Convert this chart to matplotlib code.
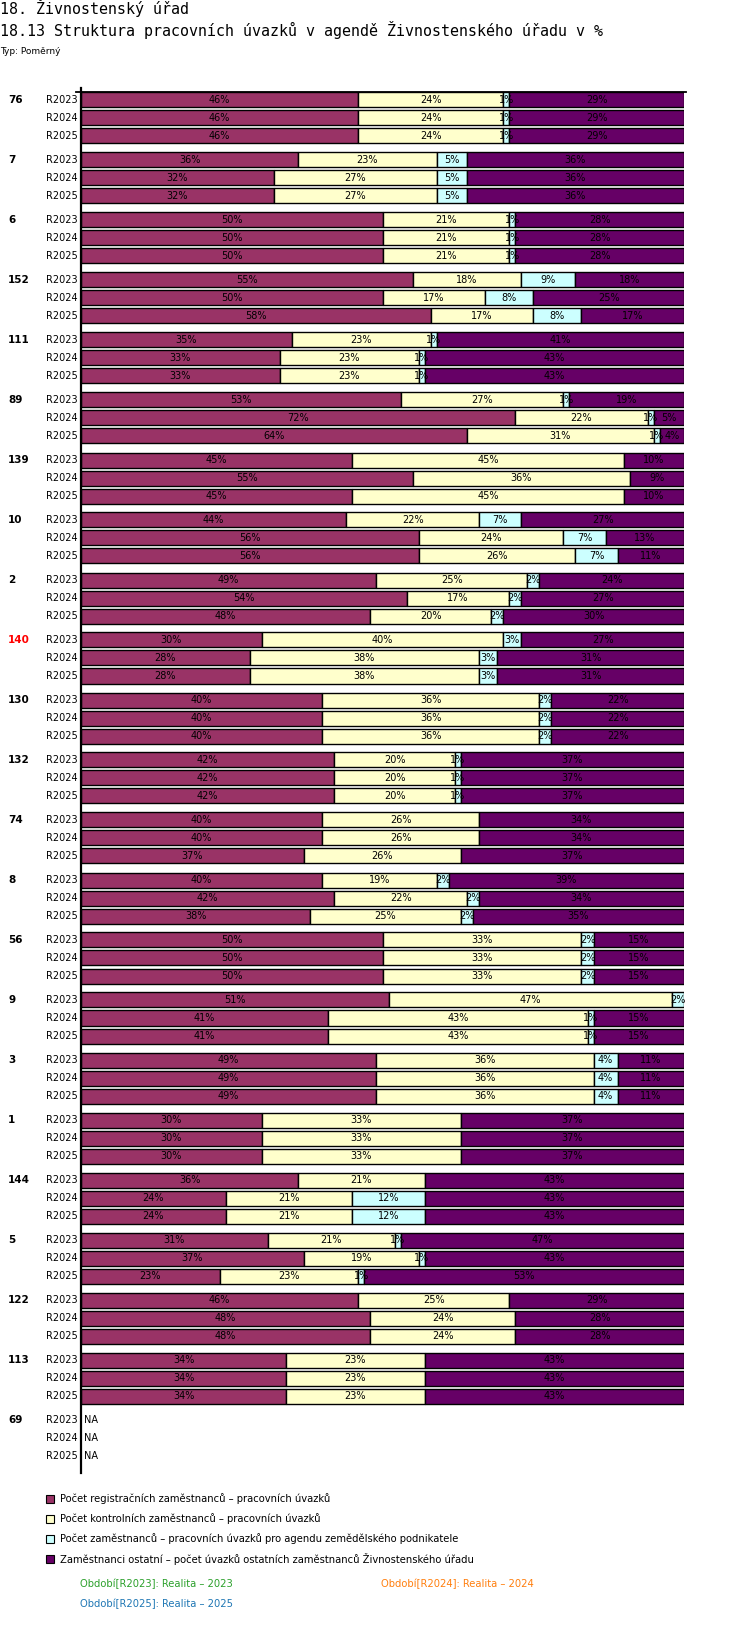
import matplotlib
matplotlib.use("Agg")
import matplotlib.pyplot as plt
from matplotlib.lines import Line2D
from matplotlib.patches import Rectangle

# skupiny (úřady) a období
groups = ["76", "7", "6", "152", "111", "89", "139", "10", "2", "140", "130", "132",
          "74", "8", "56", "9", "3", "1", "144", "5", "122", "113", "69"]
periods = ["R2023", "R2024", "R2025"]
highlight = "140"

# hodnoty v % (None = NA), pořadí období R2023, R2024, R2025
registracni = [[46, 46, 46], [36, 32, 32], [50, 50, 50], [55, 50, 58], [35, 33, 33],
               [53, 72, 64], [45, 55, 45], [44, 56, 56], [49, 54, 48], [30, 28, 28],
               [40, 40, 40], [42, 42, 42], [40, 40, 37], [40, 42, 38], [50, 50, 50],
               [51, 41, 41], [49, 49, 49], [30, 30, 30], [36, 24, 24], [31, 37, 23],
               [46, 48, 48], [34, 34, 34], [None, None, None]]
kontrolni = [[24, 24, 24], [23, 27, 27], [21, 21, 21], [18, 17, 17], [23, 23, 23],
             [27, 22, 31], [45, 36, 45], [22, 24, 26], [25, 17, 20], [40, 38, 38],
             [36, 36, 36], [20, 20, 20], [26, 26, 26], [19, 22, 25], [33, 33, 33],
             [47, 43, 43], [36, 36, 36], [33, 33, 33], [21, 21, 21], [21, 19, 23],
             [25, 24, 24], [23, 23, 23], [None, None, None]]
zemedelsky = [[1, 1, 1], [5, 5, 5], [1, 1, 1], [9, 8, 8], [1, 1, 1],
              [1, 1, 1], [0, 0, 0], [7, 7, 7], [2, 2, 2], [3, 3, 3],
              [2, 2, 2], [1, 1, 1], [0, 0, 0], [2, 2, 2], [2, 2, 2],
              [2, 1, 1], [4, 4, 4], [0, 0, 0], [0, 12, 12], [1, 1, 1],
              [0, 0, 0], [0, 0, 0], [None, None, None]]
ostatni = [[29, 29, 29], [36, 36, 36], [28, 28, 28], [18, 25, 17], [41, 43, 43],
           [19, 5, 4], [10, 9, 10], [27, 13, 11], [24, 27, 30], [27, 31, 31],
           [22, 22, 22], [37, 37, 37], [34, 34, 37], [39, 34, 35], [15, 15, 15],
           [0, 15, 15], [11, 11, 11], [37, 37, 37], [43, 43, 43], [47, 43, 53],
           [29, 28, 28], [43, 43, 43], [None, None, None]]

series = [registracni, kontrolni, zemedelsky, ostatni]
colors = ["#993366", "#FFFFCC", "#CCFFFF", "#660066"]
legend_labels = [
    "Počet registračních zaměstnanců – pracovních úvazků",
    "Počet kontrolních zaměstnanců – pracovních úvazků",
    "Počet zaměstnanců – pracovních úvazků pro agendu zemědělského podnikatele",
    "Zaměstnanci ostatní – počet úvazků ostatních zaměstnanců Živnostenského úřadu",
]
period_texts = ["Období[R2023]: Realita – 2023", "Období[R2024]: Realita – 2024",
                "Období[R2025]: Realita – 2025"]
period_colors = ["#2ca02c", "#ff7f0e", "#1f77b4"]

W, H = 750, 1642
fig = plt.figure(figsize=(W / 100, H / 100), dpi=100)

# rozložení v pixelech
ax_left, ax_right = 81, 684
ax_top, ax_bottom = 88, 1473
first_center = 100
row_h = 18
grp_h = 60
bar_h = 15

ax = fig.add_axes([ax_left / W, 1 - ax_bottom / H, (ax_right - ax_left) / W,
                   (ax_bottom - ax_top) / H])
ax.set_xlim(0, 100)
ax.set_ylim((ax_bottom - first_center) / row_h, (ax_top - first_center) / row_h)
for s in ["top", "right", "bottom"]:
    ax.spines[s].set_visible(False)
ax.spines["left"].set_linewidth(1.6)
ax.set_xticks([])
ax.set_yticks([])

for g, name in enumerate(groups):
    for r, per in enumerate(periods):
        y = g * grp_h / row_h + r
        ax.text(-0.5, y, per, ha="right", va="center", fontsize=7, clip_on=False)
        if r == 0:
            ax.text(-12.1, y, name, ha="left", va="center", fontsize=7.5,
                    fontweight="bold", color="red" if name == highlight else "black",
                    clip_on=False)
        vals = [s[g][r] for s in series]
        if vals[0] is None:
            ax.text(0.5, y, "NA", ha="left", va="center", fontsize=7)
            continue
        left = 0
        for v, c in zip(vals, colors):
            if v <= 0:
                continue
            bar = ax.barh(y, v, left=left, height=bar_h / row_h, color=c,
                          edgecolor="black", linewidth=1.0)[0]
            t = ax.text(left + v / 2, y, f"{v}%", ha="center", va="center",
                        fontsize=7, color="black")
            t.set_clip_path(bar)
            left += v

# horní čára osy
fig.add_artist(Line2D([76 / W, 686 / W], [1 - 92 / H, 1 - 92 / H],
                      color="black", linewidth=1.3))

# titulky
fig.text(0, 1 - 8 / H, "18. Živnostenský úřad", ha="left", va="center",
         fontsize=10.8, family="DejaVu Sans Mono")
fig.text(0, 1 - 30 / H,
         "18.13 Struktura pracovních úvazků v agendě Živnostenského úřadu v %",
         ha="left", va="center", fontsize=10.8, family="DejaVu Sans Mono")
fig.text(0, 1 - 51 / H, "Typ: Poměrný", ha="left", va="center", fontsize=6.5)

# legenda
for i, (lab, c) in enumerate(zip(legend_labels, colors)):
    yy = 1499 + i * 20
    fig.add_artist(Rectangle((46 / W, 1 - (yy + 4) / H), 8 / W, 8 / H,
                             facecolor=c, edgecolor="black", linewidth=0.8,
                             transform=fig.transFigure))
    fig.text(60 / W, 1 - yy / H, lab, ha="left", va="center", fontsize=7.2)

period_pos = [(80, 1584), (381, 1584), (80, 1604)]
for txt, c, (px, py) in zip(period_texts, period_colors, period_pos):
    fig.text(px / W, 1 - py / H, txt, ha="left", va="center", fontsize=7.2, color=c)

fig.savefig("out.png", dpi=100)
